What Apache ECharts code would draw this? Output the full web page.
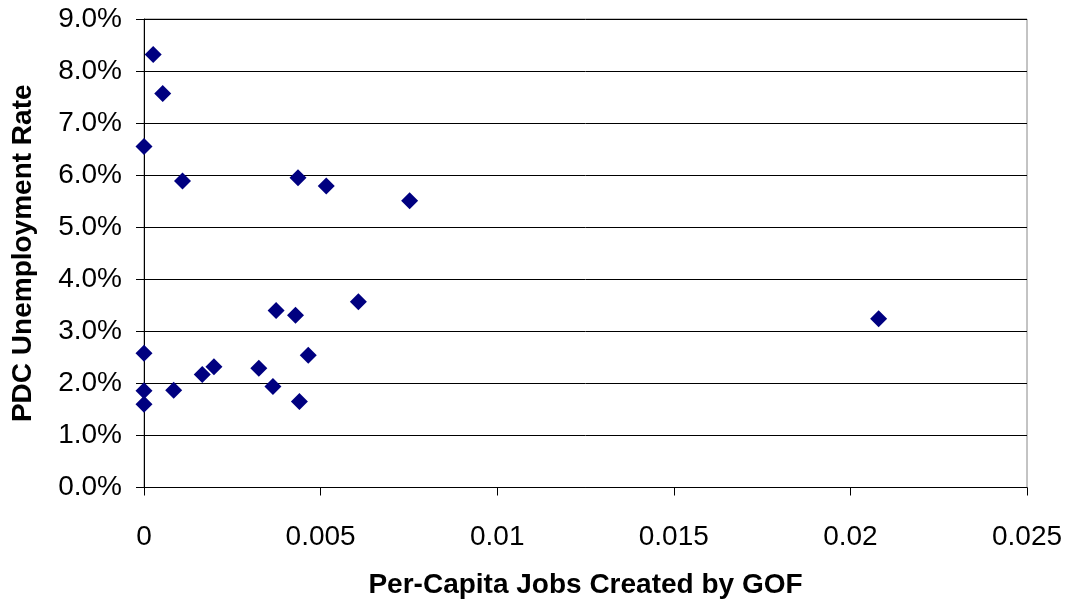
<!DOCTYPE html>
<html>
<head>
<meta charset="utf-8">
<script src="https://cdn.jsdelivr.net/npm/echarts@6/dist/echarts.min.js"></script>
<style>
html,body{margin:0;padding:0;background:#fff;}
#chart{width:1066px;height:606px;}
</style>
</head>
<body>
<div id="chart"></div>
<script>
// Data
const jobsPerCapita = [0.00026, 0.00053, 0.0, 0.00109, 0.00436, 0.00516, 0.00752,
  0.00607, 0.00374, 0.00429, 0.0, 0.00465, 0.00198, 0.00165, 0.00325, 0.00365,
  0.0, 0.00084, 0.0, 0.00440, 0.0208];
const unemploymentRate = [0.0832, 0.0757, 0.0655, 0.0589, 0.0595, 0.0579, 0.0551,
  0.0357, 0.0340, 0.0331, 0.0258, 0.0254, 0.0232, 0.0217, 0.0229, 0.0194,
  0.0186, 0.0187, 0.0160, 0.0165, 0.0324];
const xTickLabels = ['0', '0.005', '0.01', '0.015', '0.02', '0.025'];
const yTickLabels = ['0.0%', '1.0%', '2.0%', '3.0%', '4.0%', '5.0%', '6.0%', '7.0%', '8.0%', '9.0%'];
const xTitle = 'Per-Capita Jobs Created by GOF';
const yTitle = 'PDC Unemployment Rate';

const points = jobsPerCapita.map((x, i) => [x, unemploymentRate[i]]);
const font = 'Liberation Sans, Arial, sans-serif';

const chart = echarts.init(document.getElementById('chart'));
chart.setOption({
  animation: false,
  backgroundColor: '#fff',
  grid: {
    left: 144, right: 39, top: 19, bottom: 118.5,
    outerBoundsMode: 'none', containLabel: false,
    show: true, borderColor: '#888', borderWidth: 1, backgroundColor: 'transparent'
  },
  xAxis: {
    type: 'value', min: 0, max: 0.025, interval: 0.005,
    name: xTitle, nameLocation: 'middle', nameGap: 84,
    nameTextStyle: {fontFamily: font, fontSize: 28, fontWeight: 'bold', color: '#000'},
    axisLine: {show: true, lineStyle: {color: '#000', width: 1}},
    axisTick: {show: true, length: 8, inside: false, lineStyle: {color: '#000'}},
    axisLabel: {
      fontFamily: font, fontSize: 28, color: '#000', margin: 36,
      formatter: v => xTickLabels[Math.round(v / 0.005)]
    },
    splitLine: {show: false}
  },
  yAxis: {
    type: 'value', min: 0, max: 0.09, interval: 0.01,
    name: yTitle, nameLocation: 'middle', nameGap: 107, nameRotate: 90,
    nameTextStyle: {fontFamily: font, fontSize: 28, fontWeight: 'bold', color: '#000'},
    axisLine: {show: true, lineStyle: {color: '#000', width: 1}},
    axisTick: {show: true, length: 8, lineStyle: {color: '#000'}},
    axisLabel: {
      fontFamily: font, fontSize: 28, color: '#000', margin: 22,
      padding: [8, 0, 0, 0],
      formatter: v => yTickLabels[Math.round(v / 0.01)]
    },
    splitLine: {show: true, lineStyle: {color: '#000', width: 1}}
  },
  series: [{
    type: 'scatter',
    data: points,
    symbol: 'diamond',
    symbolSize: 17,
    itemStyle: {color: '#000080', opacity: 1}
  }]
});
</script>
</body>
</html>
